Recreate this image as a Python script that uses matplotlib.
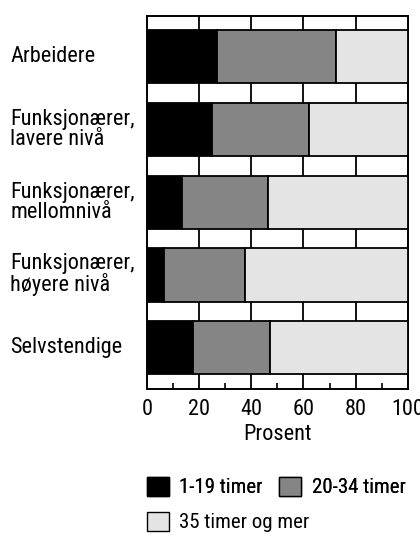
import numpy as np
import matplotlib
matplotlib.use('Agg')
import matplotlib.pyplot as plt
import matplotlib.transforms as mtransforms
from matplotlib.patches import Patch
from matplotlib import font_manager as fm

# narrow helvetica-like face if there is one
have = set(f.name for f in fm.fontManager.ttflist)
cands = ['Liberation Sans Narrow', 'Arial Narrow', 'Roboto Condensed', 'Archivo Narrow',
         'PT Sans Narrow', 'Pragati Narrow', 'Encode Sans Condensed', 'Liberation Sans']
fams = [c for c in cands if c in have] + ['DejaVu Sans']
plt.rcParams['font.family'] = fams

# data (prosent)
groups   = ['Arbeidere', 'Funksjonærer,\nlavere nivå', 'Funksjonærer,\nmellomnivå',
            'Funksjonærer,\nhøyere nivå', 'Selvstendige']
t_1_19   = [27, 25, 13.5, 6.5, 17.5]
t_20_34  = [45.5, 37, 33, 31, 29.5]
t_35     = [27.5, 38, 53.5, 62.5, 53]
series   = ['1-19 timer', '20-34 timer', '35 timer og mer']
colors   = ['black', '#858585', '#e4e4e4']

fs = 16

fig = plt.figure(figsize=(4.2, 5.37), dpi=100, facecolor='w')
ax = fig.add_axes([0.35, 0.2756, 0.621, 0.6944])

y = np.arange(len(groups))
left = np.zeros(len(groups))
handles = []
for vals, col, name in zip([t_1_19, t_20_34, t_35], colors, series):
    ax.barh(y, vals, left=left, height=0.733, color=col, edgecolor='black',
            linewidth=1.3, zorder=3)
    left = left + np.array(vals)
    handles.append(Patch(facecolor=col, edgecolor='black', linewidth=1.0, label=name))

ax.set_xlim(0, 100)
ax.set_ylim(len(groups) - 0.43, -0.56)

# vertical lines only seen between bars
for xv in [20, 40, 60, 80]:
    ax.axvline(xv, color='black', lw=1.3, zorder=1)

ax.set_xticks([0, 20, 40, 60, 80, 100])
ax.set_xticks([10, 30, 50, 70, 90], minor=True)
ax.tick_params(axis='x', which='major', length=0, labelsize=fs, pad=7)
ax.tick_params(axis='x', which='minor', direction='in', length=4, width=1.2)
ax.set_yticks([])
for sp in ax.spines.values():
    sp.set_linewidth(1.4)

ax.set_xlabel('Prosent', fontsize=fs, labelpad=3)

# category labels, left aligned at the figure edge
trans = mtransforms.blended_transform_factory(fig.transFigure, ax.transData)
for yi, g in zip(y, groups):
    ax.text(0.024, yi, g, transform=trans, ha='left', va='center',
            fontsize=fs, linespacing=0.95)

# legend: two items on first row, one on the second
kw = dict(frameon=False, fontsize=15, handlelength=1.05, handleheight=1.05,
          handletextpad=0.5, borderpad=0, borderaxespad=0)
leg1 = fig.legend(handles=handles[:2], ncol=2, columnspacing=0.8,
                  loc='center left', bbox_to_anchor=(0.35, 0.093), **kw)
fig.add_artist(leg1)
fig.legend(handles=handles[2:], loc='center left', bbox_to_anchor=(0.35, 0.028), **kw)

plt.savefig('out.png', dpi=100)
